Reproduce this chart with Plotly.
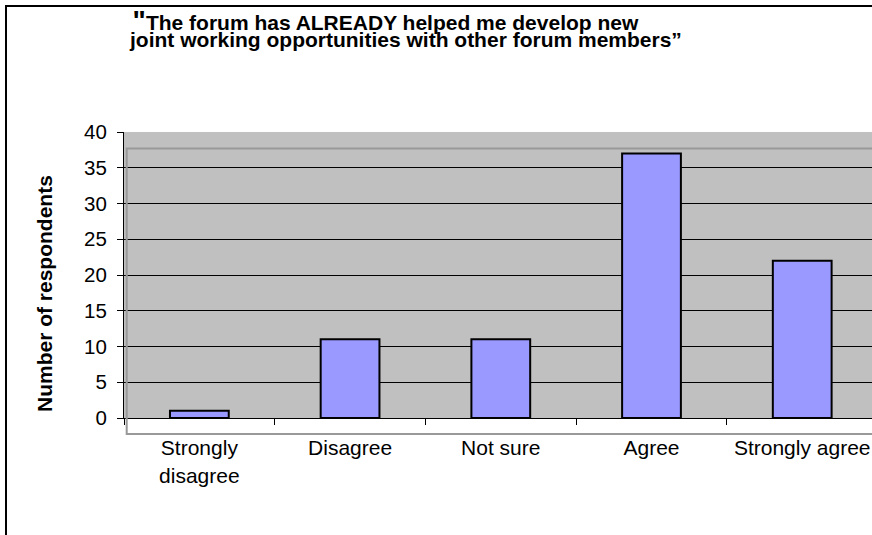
import plotly.graph_objects as go

categories = ["Strongly<br>disagree", "Disagree", "Not sure", "Agree", "Strongly agree"]
respondents = [1, 11, 11, 37, 22]
title_quote = "\""
title_line1 = "The forum has ALREADY helped me develop new"
title_line2 = "joint working opportunities with other forum members\u201d"
y_title = "Number of respondents"

W, H = 872, 535
L, R, T, B = 124, 0, 132, 117
PW, PH = W - L - R, H - T - B

def px(x):
    return (x - L) / PW

def py(y):
    return (H - B - y) / PH

FONT = "Liberation Sans, Arial, sans-serif"

fig = go.Figure(go.Bar(
    x=categories, y=respondents, width=0.39,
    marker=dict(color="#9999FF", line=dict(color="black", width=2)),
))

title_html = (
    "&#8201;<span style='font-size:28px'>" + title_quote + "</span>"
    + "<span style='font-size:21px'>" + title_line1 + "</span><br>"
    + "<span style='font-size:21px'>" + title_line2 + "</span>"
)

fig.update_layout(
    width=W, height=H,
    margin=dict(l=L, r=R, t=T, b=B, pad=0),
    paper_bgcolor="white", plot_bgcolor="#C0C0C0",
    showlegend=False,
    font=dict(family=FONT, color="black"),
    xaxis=dict(
        type="category", range=[-0.5, 4.463],
        showline=True, linecolor="black", linewidth=1,
        ticks="outside", tickson="boundaries", ticklen=6, tickcolor="black",
        tickfont=dict(size=21, family=FONT), showgrid=False,
        ticklabelstandoff=11,
    ),
    yaxis=dict(
        range=[0, 40], dtick=5, tick0=0,
        showline=True, linecolor="black", linewidth=1,
        ticks="outside", ticklen=6, tickcolor="black",
        tickfont=dict(size=20.5, family=FONT),
        showgrid=True, gridcolor="black", gridwidth=1,
        zeroline=False, ticklabelstandoff=6,
    ),
    shapes=[
        dict(type="rect", xref="paper", yref="paper",
             x0=px(126.7), x1=px(900), y0=py(434), y1=py(148.5),
             line=dict(color="#999999", width=2), layer="above"),
        dict(type="rect", xref="paper", yref="paper",
             x0=px(6), x1=px(900), y0=py(600), y1=py(6),
             line=dict(color="black", width=2)),
    ],
    annotations=[
        dict(xref="paper", yref="paper", x=px(127), y=py(3),
             xanchor="left", yanchor="top", showarrow=False, align="left",
             text=title_html,
             font=dict(size=13, family=FONT, weight="bold")),
        dict(xref="paper", yref="paper", x=px(44), y=py(294),
             xanchor="center", yanchor="middle", showarrow=False,
             textangle=-90, text=y_title,
             font=dict(size=21, family=FONT, weight="bold")),
    ],
)

fig.write_html("out.html")
